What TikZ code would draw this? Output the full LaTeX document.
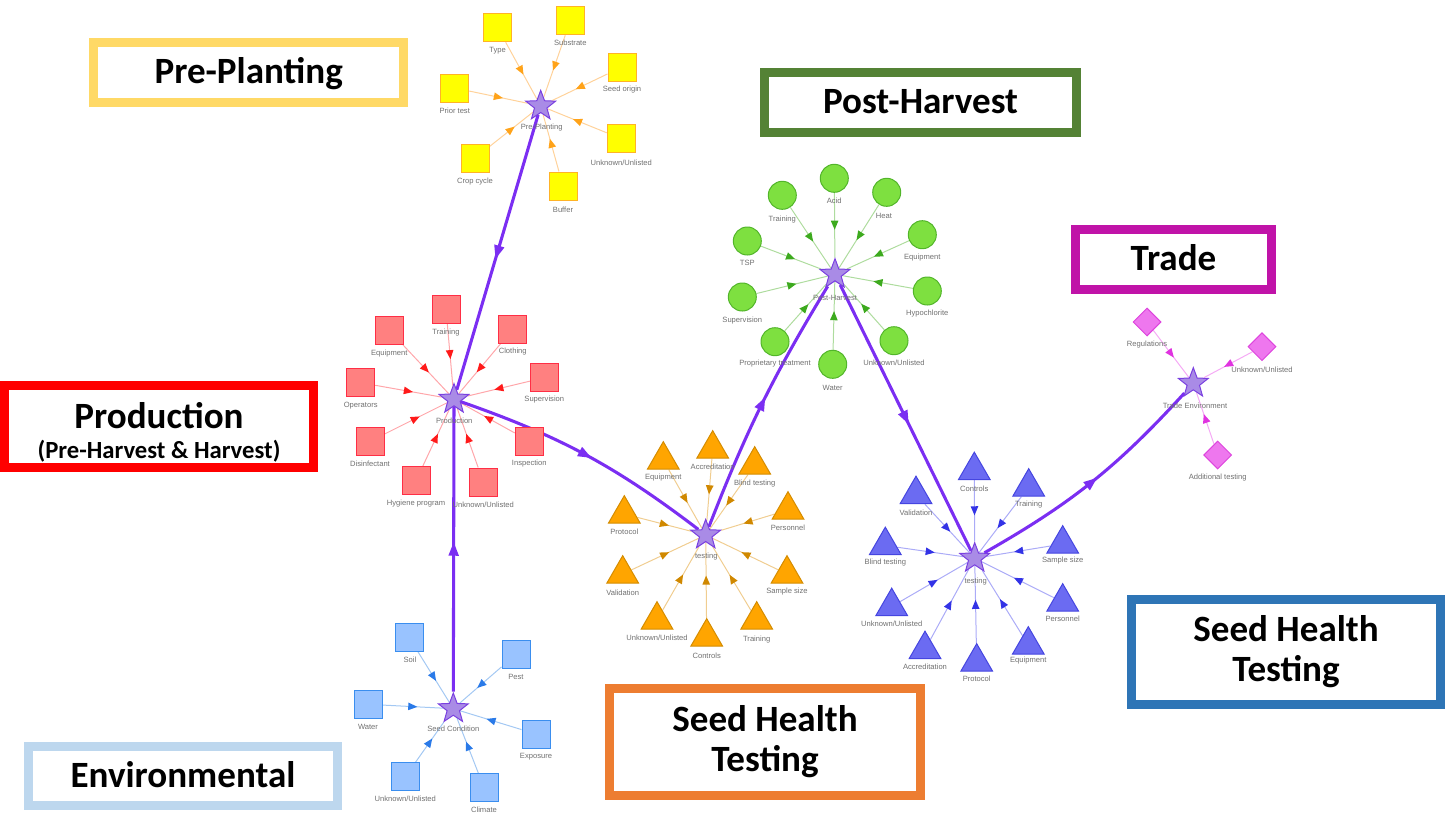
\documentclass[tikz,border=0pt]{standalone}
\usepackage{fontspec}
\usetikzlibrary{shapes.geometric,decorations.markings}
\newfontfamily\calfont{Carlito}
\newfontfamily\labfont{Liberation Sans}
\newcommand{\unkl}{Unknown/Unlisted}
\pgfdeclarelayer{bg}
\pgfsetlayers{bg,main}
\definecolor{yfill}{HTML}{FFFF00}
\definecolor{yline}{HTML}{FFB326}
\definecolor{yedge}{HTML}{FFD29A}
\definecolor{yarrow}{HTML}{FFA31A}
\definecolor{gfill}{HTML}{7EE040}
\definecolor{gline}{HTML}{52B52A}
\definecolor{gedge}{HTML}{AEDC9E}
\definecolor{garrow}{HTML}{3DAA1E}
\definecolor{rfill}{HTML}{FF8080}
\definecolor{rline}{HTML}{FF2E45}
\definecolor{redge}{HTML}{FFA6AA}
\definecolor{rarrow}{HTML}{FF1A1A}
\definecolor{ofill}{HTML}{FFA500}
\definecolor{oline}{HTML}{D48C00}
\definecolor{oedge}{HTML}{F0CD90}
\definecolor{oarrow}{HTML}{D08800}
\definecolor{bfill}{HTML}{6B6BF2}
\definecolor{bline}{HTML}{4545E0}
\definecolor{bedge}{HTML}{ABABF7}
\definecolor{barrow}{HTML}{3333E6}
\definecolor{pfill}{HTML}{EE77EE}
\definecolor{pline}{HTML}{DD44DD}
\definecolor{pedge}{HTML}{F5AAF5}
\definecolor{parrow}{HTML}{E033E0}
\definecolor{lfill}{HTML}{99C3FF}
\definecolor{lline}{HTML}{3A8EEF}
\definecolor{ledge}{HTML}{A3C8F3}
\definecolor{larrow}{HTML}{2A7AE8}
\definecolor{starfill}{HTML}{A98BE6}
\definecolor{starline}{HTML}{7A40E0}
\definecolor{trunkc}{HTML}{7B2EF2}
\definecolor{labgray}{HTML}{707070}
\definecolor{cPre}{HTML}{FFD966}
\definecolor{cPost}{HTML}{548235}
\definecolor{cTrade}{HTML}{C013A8}
\definecolor{cProd}{HTML}{FF0000}
\definecolor{cSHo}{HTML}{ED7D31}
\definecolor{cSHb}{HTML}{2E75B6}
\definecolor{cEnv}{HTML}{BDD7EE}
\tikzset{
  sat/.style={inner sep=0pt, line width=0.75pt},
  sq/.style={sat, rectangle, minimum size=21pt},
  circ/.style={sat, circle, minimum size=21pt},
  tri/.style={sat, regular polygon, regular polygon sides=3, minimum size=27.5pt},
  dia/.style={sat, diamond, minimum size=21pt},
  hub/.style={star, star points=5, star point ratio=2.4, minimum size=23.5pt, inner sep=0pt, fill=starfill, draw=starline, line width=0.75pt},
  lbl/.style={font=\labfont\fontsize{5.7}{6.5}\selectfont, text=labgray, inner sep=0pt},
  spoke/.style 2 args={draw=#1, line width=0.75pt, postaction={decorate, decoration={markings, mark=at position 0.5 with {\fill[#2] (3.4pt,0) -- (-3.4pt,2.9pt) -- (-3.4pt,-2.9pt) -- cycle;}}}},
  trunk/.style={draw=trunkc, line width=2.3pt, postaction={decorate, decoration={markings, mark=at position 0.5 with {\fill[trunkc] (5pt,0) -- (-5pt,4pt) -- (-5pt,-4pt) -- cycle;}}}},
  tbox/.style={draw=#1, line width=6.75pt, fill=white},
  ttl/.style={font=\calfont\bfseries\fontsize{27.8}{30}\selectfont, anchor=base, inner sep=0pt},
  sub/.style={font=\calfont\bfseries\fontsize{18.5}{22}\selectfont, anchor=base, inner sep=0pt},
}
\begin{document}
\begin{tikzpicture}[x=0.75pt,y=-0.75pt]
\useasboundingbox (0,0) rectangle (1446,825);
% title boxes
\begin{pgfonlayer}{bg}
\draw[tbox=cPre] (93.5,42.8) rectangle (403.8,102.2);
\draw[tbox=cPost] (764.5,72.5) rectangle (1076.5,132.5);
\draw[tbox=cTrade] (1075.5,229.5) rectangle (1271.5,289.5);
\draw[tbox=cProd] (4.5,385.5) rectangle (313.8,467.2);
\draw[tbox=cSHo] (609.5,688.5) rectangle (920.5,795.5);
\draw[tbox=cSHb] (1131.2,599.5) rectangle (1440.5,704.8);
\draw[tbox=cEnv] (28.5,746.5) rectangle (337.5,805.5);
\end{pgfonlayer}
\node[ttl] (tPre) at (248.7,83.3) {Pre-Planting};
\node[ttl] (tPost) at (920.5,113.8) {Post-Harvest};
\node[ttl] (tTrade) at (1173.5,270) {Trade};
\node[ttl] (tProd) at (159,428) {Production};
\node[sub] (tProd2) at (159,458.3) {(Pre-Harvest \& Harvest)};
\node[ttl] (tSHo1) at (765,731.5) {Seed Health};
\node[ttl] (tSHo2) at (765,771.5) {Testing};
\node[ttl] (tSHb1) at (1286,641.7) {Seed Health};
\node[ttl] (tSHb2) at (1286,681.7) {Testing};
\node[ttl] (tEnv) at (183,787.5) {Environmental};

% hubs
\node[hub] (ppS) at (540.7,106) {};
\node[lbl] (ppSl) at (541.7,128) {Pre-Planting};
\node[hub] (phS) at (835,274.3) {};
\node[lbl] (phSl) at (835,297.7) {Post-Harvest};
\node[hub] (prS) at (454,399.3) {};
\node[lbl] (prSl) at (454.3,420.7) {Production};
\node[hub] (toS) at (705.7,535) {};
\node[lbl] (toSl) at (706.3,556.7) {testing};
\node[hub] (tbS) at (974.7,558.3) {};
\node[lbl] (tbSl) at (975.7,581.7) {testing};
\node[hub] (trS) at (1193.3,383.3) {};
\node[lbl] (trSl) at (1195,405.3) {Trade Environment};
\node[hub] (scS) at (453.3,708.7) {};
\node[lbl] (scSl) at (453.3,728.7) {Seed Condition};

% Pre-Planting
\foreach \i/\x/\y/\lx/\ly/\t in {1/497.7/27.7/497.7/50.7/Type, 2/570.3/20.7/570.3/42.7/Substrate, 3/622/67/622/90/Seed origin, 4/454.7/88/454.7/110.7/Prior test, 5/621.3/138.7/621.3/162.7/\unkl, 6/475/158/475/181.3/Crop cycle, 7/563/186/563/209.3/Buffer}{
  \node[sq, fill=yfill, draw=yline] (pp\i) at (\x,\y) {};
  \node[lbl] (ppl\i) at (\lx,\ly) {\t};
}
% Post-Harvest
\foreach \i/\x/\y/\lx/\ly/\t in {1/834.3/178.3/834.3/200.7/Acid, 2/886.7/192.3/884/215.7/Heat, 3/782.3/195.3/782.3/219.3/Training, 4/922.3/234.7/922.3/257.7/Equipment, 5/747.3/241/747.3/263.3/TSP, 6/742.3/297/742.3/320.3/Supervision, 7/927.3/291/927.3/314/Hypochlorite, 8/775/341.7/775/364/Proprietary treatment, 9/894/340.7/894/363/\unkl, 10/832.7/364.3/832.7/388.3/Water}{
  \node[circ, fill=gfill, draw=gline] (ph\i) at (\x,\y) {};
  \node[lbl] (phl\i) at (\lx,\ly) {\t};
}
% Production
\foreach \i/\x/\y/\lx/\ly/\t in {1/446/309.3/446/332.7/Training, 2/389.3/330.3/389.3/353.3/Equipment, 3/512.7/329.3/512.7/352/Clothing, 4/360.7/382.7/360.7/405.7/Operators, 5/544.3/377.7/544.3/400/Supervision, 6/370/441.3/370/464/Disinfectant, 7/529.3/441/529.3/464/Inspection, 8/416/480.7/416/503.7/Hygiene program, 9/483.3/482/483.3/505/\unkl}{
  \node[sq, fill=rfill, draw=rline] (pr\i) at (\x,\y) {};
  \node[lbl] (prl\i) at (\lx,\ly) {\t};
}
% testing (orange)
\foreach \i/\x/\y/\lx/\ly/\t in {1/663.3/460/663.3/477.3/Equipment, 2/712.7/449/712.7/466.7/Accreditation, 3/754.7/465/754.7/483.7/Blind testing, 4/624.3/514/624.3/532/Protocol, 5/788/510/788/527.3/Personnel, 6/622.7/574/622.7/592.3/Validation, 7/787/574/787/591.3/Sample size, 8/657/620/657/638/\unkl, 9/756.7/620/756.7/639.3/Training, 10/706.7/637/706.7/655.3/Controls}{
  \node[tri, fill=ofill, draw=oline] (to\i) at (\x,\y) {};
  \node[lbl] (tol\i) at (\lx,\ly) {\t};
}
% testing (blue)
\foreach \i/\x/\y/\lx/\ly/\t in {1/974.3/470.5/974.3/489/Controls, 2/1028.7/487/1028.7/505/Training, 3/916/494.5/916/512.3/Validation, 4/885.3/545.5/885.3/562.7/Blind testing, 5/1062.7/544/1062.7/560.3/Sample size, 6/891.7/606.5/891.7/623.3/\unkl, 7/1062.7/602/1062.7/618.7/Personnel, 8/925/649.5/925/666.7/Accreditation, 9/1028.3/645/1028.3/661/Equipment, 10/976.7/662/976.7/678.3/Protocol}{
  \node[tri, fill=bfill, draw=bline] (tb\i) at (\x,\y) {};
  \node[lbl] (tbl\i) at (\lx,\ly) {\t};
}
% Trade
\foreach \i/\x/\y/\lx/\ly/\t in {1/1147/322/1147/344.3/Regulations, 2/1262/346.7/1262/369.3/\unkl, 3/1217.7/455/1217.7/477.7/Additional testing}{
  \node[dia, fill=pfill, draw=pline] (tr\i) at (\x,\y) {};
  \node[lbl] (trl\i) at (\lx,\ly) {\t};
}
% Seed condition
\foreach \i/\x/\y/\lx/\ly/\t in {1/409/637.3/410/660/Soil, 2/516/654.3/516/677.3/Pest, 3/368/704.3/368/727.3/Water, 4/536/734/536/757/Exposure, 5/405.3/776.7/405.3/799/\unkl, 6/484/787.7/484/810/Climate}{
  \node[sq, fill=lfill, draw=lline] (sc\i) at (\x,\y) {};
  \node[lbl] (scl\i) at (\lx,\ly) {\t};
}

\begin{pgfonlayer}{bg}
\foreach \i in {1,...,7} \draw[spoke={yedge}{yarrow}] (pp\i) -- (ppS);
\foreach \i in {1,...,10} \draw[spoke={gedge}{garrow}] (ph\i) -- (phS);
\foreach \i in {1,...,9} \draw[spoke={redge}{rarrow}] (pr\i) -- (prS);
\foreach \i in {1,...,10} \draw[spoke={oedge}{oarrow}] (to\i) -- (toS);
\foreach \i in {1,...,10} \draw[spoke={bedge}{barrow}] (tb\i) -- (tbS);
\foreach \i in {1,...,3} \draw[spoke={pedge}{parrow}] (tr\i) -- (trS);
\foreach \i in {1,...,6} \draw[spoke={ledge}{larrow}] (sc\i) -- (scS);
\draw[trunk] (ppS) -- (prS);
\draw[trunk] (scS) -- (prS);
\draw[trunk] (prS) to[bend left=9] (toS);
\draw[trunk] (toS) to[bend left=5] (phS);
\draw[trunk] (phS) -- (tbS);
\draw[trunk] (tbS) to[bend right=9] (trS);
\end{pgfonlayer}
\end{tikzpicture}
\end{document}
